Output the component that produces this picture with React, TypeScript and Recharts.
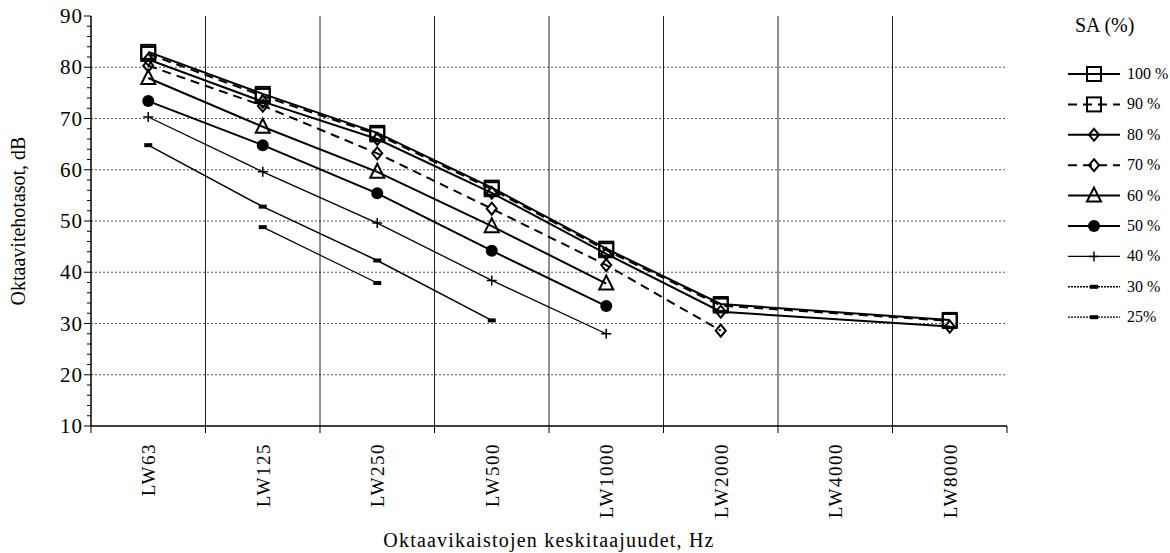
import React from 'react';
import { LineChart, Line, XAxis, YAxis, ReferenceLine } from 'recharts';

const categories = ['LW63', 'LW125', 'LW250', 'LW500', 'LW1000', 'LW2000', 'LW4000', 'LW8000'];

const sa100 = [83, 74.8, 67.2, 56.5, 44.6, 33.8, null, 30.7];
const sa90 = [82.6, 74.4, 66.9, 56.2, 44.3, 33.5, null, 30.5];
const sa80 = [81.5, 73.3, 66, 55.5, 43.6, 32.3, null, 29.4];
const sa70 = [80.3, 72.5, 63.2, 52.4, 41.4, 28.6, null, null];
const sa60 = [77.9, 68.4, 59.6, 49, 37.8, null, null, null];
const sa50 = [73.4, 64.8, 55.4, 44.2, 33.4, null, null, null];
const sa40 = [70.3, 59.6, 49.6, 38.4, 28, null, null, null];
const sa30 = [64.8, 52.8, 42.3, 30.6, null, null, null, null];
const sa25 = [null, 48.8, 37.9, null, null, null, null, null];

const yTicks = [10, 12, 14, 16, 18, 20, 22, 24, 26, 28, 30, 32, 34, 36, 38, 40, 42, 44, 46, 48, 50,
  52, 54, 56, 58, 60, 62, 64, 66, 68, 70, 72, 74, 76, 78, 80, 82, 84, 86, 88, 90];
const yGrid = [20, 30, 40, 50, 60, 70, 80];
const xGrid = [1, 2, 3, 4, 5, 6, 7];
const xTicks = [0, 0.5, 1, 1.5, 2, 2.5, 3, 3.5, 4, 4.5, 5, 5.5, 6, 6.5, 7, 7.5, 8];

const FONT = 'Liberation Serif, Times New Roman, serif';

type Marker = 'square' | 'diamond' | 'triangle' | 'circle' | 'plus' | 'dash';

const series: { key: string; label: string; values: (number | null)[]; dash?: string; width: number; marker: Marker; legendDash?: string }[] = [
  { key: 's100', label: '100 %', values: sa100, width: 2, marker: 'square' },
  { key: 's90', label: '90 %', values: sa90, width: 2, marker: 'square', dash: '9 6' },
  { key: 's80', label: '80 %', values: sa80, width: 2, marker: 'diamond' },
  { key: 's70', label: '70 %', values: sa70, width: 2, marker: 'diamond', dash: '9 6' },
  { key: 's60', label: '60 %', values: sa60, width: 2, marker: 'triangle' },
  { key: 's50', label: '50 %', values: sa50, width: 2, marker: 'circle' },
  { key: 's40', label: '40 %', values: sa40, width: 1.3, marker: 'plus' },
  { key: 's30', label: '30 %', values: sa30, width: 1.5, marker: 'dash', legendDash: '2 1' },
  { key: 's25', label: '25%', values: sa25, width: 1.2, marker: 'dash', legendDash: '2 1' },
];

const rows = categories.map((name, i) => {
  const row: Record<string, number | string | null> = { name, x: i + 0.5 };
  series.forEach((s) => {
    row[s.key] = s.values[i];
  });
  return row;
});

function drawMarker(type: Marker, cx: number, cy: number, key?: string) {
  switch (type) {
    case 'square':
      return <rect key={key} x={cx - 7} y={cy - 7} width={14} height={14} fill="none" stroke="#000" strokeWidth={2} />;
    case 'diamond':
      return <path key={key} d={`M${cx},${cy - 6} L${cx + 5},${cy} L${cx},${cy + 6} L${cx - 5},${cy} Z`} fill="none" stroke="#000" strokeWidth={2} />;
    case 'triangle':
      return <path key={key} d={`M${cx},${cy - 8} L${cx + 7},${cy + 6} L${cx - 7},${cy + 6} Z`} fill="none" stroke="#000" strokeWidth={2} />;
    case 'circle':
      return <circle key={key} cx={cx} cy={cy} r={6} fill="#000" />;
    case 'plus':
      return <path key={key} d={`M${cx - 5},${cy} L${cx + 5},${cy} M${cx},${cy - 5} L${cx},${cy + 5}`} stroke="#000" strokeWidth={1.5} />;
    case 'dash':
    default:
      return <rect key={key} x={cx - 4} y={cy - 2} width={8} height={4} fill="#000" />;
  }
}

const makeDot = (type: Marker) => (props: any) => {
  const { cx, cy, index, dataKey } = props;
  if (cx == null || cy == null || props.value == null) return <g key={`${dataKey}-${index}`} />;
  return drawMarker(type, cx, cy, `${dataKey}-${index}`);
};

const YTick = (props: any) => {
  const { x, y, payload } = props;
  const major = payload.value % 10 === 0;
  return (
    <g>
      <line x1={x - (major ? 7 : 4)} x2={x} y1={y} y2={y} stroke="#000" strokeWidth={1} />
      {major && (
        <text x={x - 8} y={y} dy={7} textAnchor="end" style={{ fontFamily: FONT, fontSize: 21, letterSpacing: 1 }} fill="#000">
          {payload.value}
        </text>
      )}
    </g>
  );
};

const XTick = (props: any) => {
  const { x, y, payload } = props;
  const v = payload.value;
  if (Number.isInteger(v)) {
    return <line x1={x} x2={x} y1={y} y2={y + 7} stroke="#000" strokeWidth={1} />;
  }
  const name = categories[Math.floor(v)];
  return (
    <text
      transform={`translate(${x + 7},${y + 17}) rotate(-90)`}
      textAnchor="end"
      style={{ fontFamily: FONT, fontSize: 19, letterSpacing: 1.5 }}
      fill="#000"
    >
      {name}
    </text>
  );
};

const LegendBox = () => (
  <svg width={150} height={340} style={{ position: 'absolute', left: 1020, top: 0 }}>
    <text x={55} y={32} style={{ fontFamily: FONT, fontSize: 20 }} fill="#000">SA (%)</text>
    {series.map((s, i) => {
      const y = 74 + i * 30.4;
      return (
        <g key={s.key}>
          <line x1={48} x2={100} y1={y} y2={y} stroke="#000" strokeWidth={s.width} strokeDasharray={s.legendDash || s.dash} />
          {drawMarker(s.marker, 74, y)}
          <text x={107} y={y + 5} style={{ fontFamily: FONT, fontSize: 16 }} fill="#000">{s.label}</text>
        </g>
      );
    })}
  </svg>
);

export default function App() {
  return (
    <div style={{ position: 'absolute', left: 0, top: 0, width: 1170, height: 553, background: '#fff' }}>
      <LineChart width={1170} height={553} data={rows} margin={{ top: 16, right: 163, bottom: 0, left: 0 }}>
        <XAxis
          dataKey="x"
          type="number"
          domain={[0, 8]}
          ticks={xTicks}
          interval={0}
          height={127}
          tickSize={0}
          tickMargin={0}
          tickLine={false}
          axisLine={{ stroke: '#000', strokeWidth: 1.5 }}
          tick={<XTick />}
          label={{ value: 'Oktaavikaistojen keskitaajuudet, Hz', position: 'insideBottom', offset: 6, fill: '#000', style: { fontFamily: FONT, fontSize: 20, letterSpacing: 1.2 } }}
        />
        <YAxis
          type="number"
          domain={[10, 90]}
          ticks={yTicks}
          interval={0}
          width={91}
          tickSize={0}
          tickMargin={0}
          tickLine={false}
          axisLine={{ stroke: '#000', strokeWidth: 1.5 }}
          tick={<YTick />}
          label={{ value: 'Oktaavitehotasot, dB', angle: -90, position: 'insideLeft', offset: 18, fill: '#000', style: { textAnchor: 'middle', fontFamily: FONT, fontSize: 20 } }}
        />
        {yGrid.map((v) => (
          <ReferenceLine key={`h${v}`} y={v} stroke="#555" strokeDasharray="2 2" strokeWidth={1} />
        ))}
        {xGrid.map((v) => (
          <ReferenceLine key={`v${v}`} x={v} stroke="#222" strokeWidth={1} />
        ))}
        {series.map((s) => (
          <Line
            key={s.key}
            dataKey={s.key}
            stroke="#000"
            strokeWidth={s.width}
            strokeDasharray={s.dash}
            dot={makeDot(s.marker)}
            activeDot={false}
            connectNulls
            isAnimationActive={false}
          />
        ))}
      </LineChart>
      <LegendBox />
    </div>
  );
}
